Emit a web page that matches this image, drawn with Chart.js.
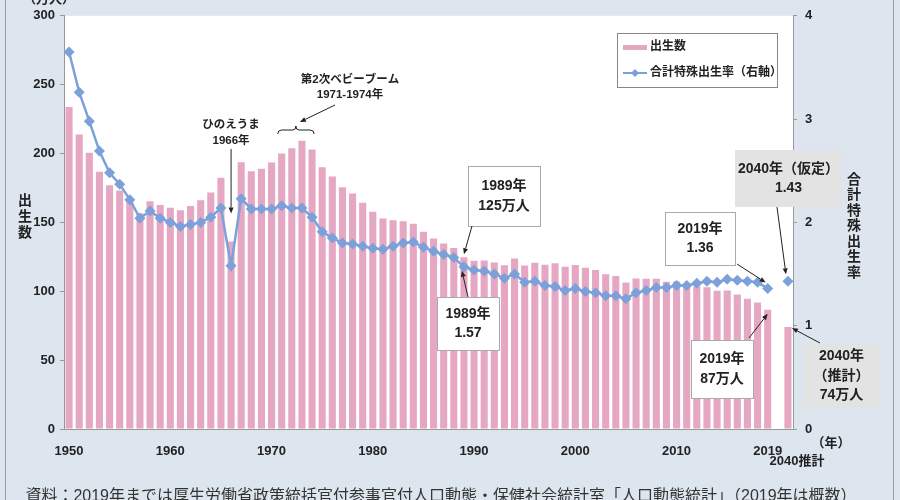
<!DOCTYPE html>
<html>
<head>
<meta charset="utf-8">
<script src="https://cdn.jsdelivr.net/npm/chart.js@4.4.1/dist/chart.umd.min.js"></script>
<style>
  html, body { margin: 0; padding: 0; background: #dde5ee; }
  canvas { display: block; }
</style>
</head>
<body>
<canvas id="chart" width="900" height="500"></canvas>
<script>
// --- DATOS ---
const years = [];
for (let y = 1950; y <= 2019; y++) years.push(String(y));
const categories = years.concat(['', '2040']);
const tickYears = ['1950', '1960', '1970', '1980', '1990', '2000', '2010', '2019'];

// 出生数（万人） 1950-2019, 空白, 2040推計
const births = [
  233.8, 213.8, 200.5, 186.8, 177.0, 173.1, 166.5, 156.7, 165.3, 162.6,
  160.6, 158.9, 161.9, 166.0, 171.7, 182.4, 136.1, 193.6, 187.2, 188.9,
  193.4, 200.1, 203.9, 209.2, 203.0, 190.1, 183.3, 175.5, 170.9, 164.3,
  157.7, 152.9, 151.5, 150.9, 149.0, 143.2, 138.3, 134.7, 131.4, 124.7,
  122.2, 122.3, 120.9, 118.8, 123.8, 118.7, 120.7, 119.2, 120.3, 117.8,
  119.1, 117.1, 115.4, 112.4, 111.1, 106.3, 109.3, 109.0, 109.1, 107.0,
  107.1, 105.1, 103.7, 103.0, 100.4, 100.6, 97.7, 94.6, 91.8, 86.5,
  null, 74
];

// 合計特殊出生率
const tfr = [
  3.65, 3.26, 2.98, 2.69, 2.48, 2.37, 2.22, 2.04, 2.11, 2.04,
  2.00, 1.96, 1.98, 2.00, 2.05, 2.14, 1.58, 2.23, 2.13, 2.13,
  2.13, 2.16, 2.14, 2.14, 2.05, 1.91, 1.85, 1.80, 1.79, 1.77,
  1.75, 1.74, 1.77, 1.80, 1.81, 1.76, 1.72, 1.69, 1.66, 1.57,
  1.54, 1.53, 1.50, 1.46, 1.50, 1.42, 1.43, 1.39, 1.38, 1.34,
  1.36, 1.33, 1.32, 1.29, 1.29, 1.26, 1.32, 1.34, 1.37, 1.37,
  1.39, 1.39, 1.41, 1.43, 1.42, 1.45, 1.44, 1.43, 1.42, 1.36,
  null, 1.43
];

const BAR_COLOR = '#e6a7c2';
const LINE_COLOR = '#7ba0da';
const TEXT_COLOR = '#222';
const FONT = '"Liberation Sans", "Noto Sans CJK JP", sans-serif';
const caption = '資料：2019年までは厚生労働省政策統括官付参事官付人口動態・保健社会統計室「人口動態統計」（2019年は概数）';

function text(ctx, str, x, y, size, weight = 'bold', align = 'center', color = TEXT_COLOR) {
  ctx.font = `${weight} ${size}px ${FONT}`;
  ctx.fillStyle = color;
  ctx.textAlign = align;
  ctx.textBaseline = 'middle';
  ctx.fillText(str, x, y);
}

function arrow(ctx, x1, y1, x2, y2) {
  const ang = Math.atan2(y2 - y1, x2 - x1);
  const len = 6, w = 2.5;
  ctx.strokeStyle = '#222';
  ctx.fillStyle = '#222';
  ctx.lineWidth = 1;
  ctx.beginPath();
  ctx.moveTo(x1, y1);
  ctx.lineTo(x2 - Math.cos(ang) * len, y2 - Math.sin(ang) * len);
  ctx.stroke();
  ctx.beginPath();
  ctx.moveTo(x2, y2);
  ctx.lineTo(x2 - Math.cos(ang) * len - Math.sin(ang) * w, y2 - Math.sin(ang) * len + Math.cos(ang) * w);
  ctx.lineTo(x2 - Math.cos(ang) * len + Math.sin(ang) * w, y2 - Math.sin(ang) * len - Math.cos(ang) * w);
  ctx.closePath();
  ctx.fill();
}

function box(ctx, x, y, w, h, lines, gray) {
  ctx.fillStyle = gray ? '#e3e3e3' : '#fff';
  ctx.fillRect(x, y, w, h);
  if (!gray) {
    ctx.strokeStyle = '#aaa';
    ctx.lineWidth = 1;
    ctx.strokeRect(x + 0.5, y + 0.5, w, h);
  }
  const step = 19.5;
  const start = y + h / 2 - (lines.length - 1) * step / 2;
  lines.forEach((l, k) => text(ctx, l, x + w / 2, start + k * step, 14));
}

const decor = {
  id: 'decor',
  beforeDraw(chart) {
    const { ctx, chartArea: a } = chart;
    ctx.save();
    ctx.fillStyle = '#dde5ee';
    ctx.fillRect(0, 0, chart.width, chart.height);
    ctx.fillStyle = '#fff';
    ctx.fillRect(a.left, a.top, a.right - a.left, a.bottom - a.top);
    ctx.strokeStyle = '#999';
    ctx.lineWidth = 1;
    ctx.beginPath();
    ctx.moveTo(5.5, 0); ctx.lineTo(5.5, 500);
    ctx.moveTo(893.5, 0); ctx.lineTo(893.5, 500);
    ctx.stroke();
    ctx.restore();
  },
  afterDraw(chart) {
    const { ctx } = chart;
    const xs = chart.scales.x, ys = chart.scales.y, yr = chart.scales.y1;
    const px = i => xs.getPixelForValue(i);
    const i1966 = categories.indexOf('1966');
    const i1971 = categories.indexOf('1971');
    const i1974 = categories.indexOf('1974');
    const i1989 = categories.indexOf('1989');
    const i2019 = categories.indexOf('2019');
    const i2040 = categories.indexOf('2040');
    ctx.save();

    // 軸タイトル
    ['出', '生', '数'].forEach((c, k) => text(ctx, c, 25, 201 + k * 16, 14));
    '合計特殊出生率'.split('').forEach((c, k) => text(ctx, c, 854, 180 + k * 15.5, 14));
    text(ctx, '（万人）', 49, -1, 13);
    text(ctx, '（年）', 831, 443, 13);
    text(ctx, '2040推計', px(i2040) + 9, 461, 13);
    text(ctx, caption, 441, 497, 16, 'normal', 'center', '#333');

    // 凡例
    ctx.fillStyle = '#fff';
    ctx.fillRect(617, 33, 160, 54);
    ctx.strokeStyle = '#888';
    ctx.lineWidth = 1;
    ctx.strokeRect(617.5, 33.5, 160, 54);
    ctx.fillStyle = BAR_COLOR;
    ctx.fillRect(623, 45, 24, 5);
    text(ctx, '出生数', 650, 47, 12, 'bold', 'left');
    ctx.strokeStyle = LINE_COLOR;
    ctx.lineWidth = 2;
    ctx.beginPath(); ctx.moveTo(623, 73); ctx.lineTo(647, 73); ctx.stroke();
    ctx.fillStyle = LINE_COLOR;
    ctx.beginPath();
    ctx.moveTo(635, 69); ctx.lineTo(639, 73); ctx.lineTo(635, 77); ctx.lineTo(631, 73);
    ctx.closePath(); ctx.fill();
    text(ctx, '合計特殊出生率（右軸）', 650, 73, 12, 'bold', 'left');

    // ひのえうま
    const x66 = px(i1966);
    text(ctx, 'ひのえうま', x66, 125, 11.5);
    text(ctx, '1966年', x66, 141, 11.5);
    arrow(ctx, x66, 149, x66, ys.getPixelForValue(births[i1966]) - 28);

    // 第2次ベビーブーム
    const bl = px(i1971) - 4, br = px(i1974) + 2, bm = (bl + br) / 2, by = 130;
    text(ctx, '第2次ベビーブーム', 350, 80, 11.5);
    text(ctx, '1971-1974年', 350, 95, 11.5);
    ctx.strokeStyle = '#222';
    ctx.lineWidth = 1;
    ctx.beginPath();
    ctx.moveTo(bl, by + 4);
    ctx.quadraticCurveTo(bl, by, bl + 4, by);
    ctx.lineTo(bm - 3, by);
    ctx.quadraticCurveTo(bm, by, bm, by - 4);
    ctx.quadraticCurveTo(bm, by, bm + 3, by);
    ctx.lineTo(br - 4, by);
    ctx.quadraticCurveTo(br, by, br, by + 4);
    ctx.stroke();
    arrow(ctx, 335, 105, bm + 4, 122);

    // 1989年
    const x89 = px(i1989);
    box(ctx, 468, 166, 72, 60, ['1989年', '125万人']);
    arrow(ctx, 472, 226, x89, ys.getPixelForValue(births[i1989]) - 3);
    box(ctx, 437, 297, 62, 53, ['1989年', '1.57']);
    arrow(ctx, 468, 297, x89 - 2, yr.getPixelForValue(tfr[i1989]) + 4);

    // 2019年・2040年
    const x19 = px(i2019), x40 = px(i2040);
    box(ctx, 665, 212, 70, 53, ['2019年', '1.36']);
    arrow(ctx, 737, 264, x19 - 2, yr.getPixelForValue(tfr[i2019]) - 6);
    box(ctx, 735, 150, 107, 57, ['2040年（仮定）', '1.43'], true);
    arrow(ctx, 777, 207, x40 - 2, yr.getPixelForValue(tfr[i2040]) - 7);
    box(ctx, 691, 340, 62, 58, ['2019年', '87万人']);
    arrow(ctx, 749, 338, x19, ys.getPixelForValue(births[i2019]) + 4);
    box(ctx, 803, 344, 77, 64, ['2040年', '（推計）', '74万人'], true);
    arrow(ctx, 820, 343, x40 + 4, ys.getPixelForValue(births[i2040]) + 1);

    ctx.restore();
  }
};

const tickFont = { family: FONT, size: 13, weight: 'bold' };

new Chart(document.getElementById('chart'), {
  type: 'bar',
  data: {
    labels: categories,
    datasets: [
      {
        type: 'line',
        label: '合計特殊出生率（右軸）',
        data: tfr,
        yAxisID: 'y1',
        borderColor: LINE_COLOR,
        backgroundColor: LINE_COLOR,
        borderWidth: 2.5,
        pointStyle: 'rectRot',
        pointRadius: 5.5,
        pointBorderWidth: 0,
        spanGaps: false,
        order: 0
      },
      {
        type: 'bar',
        label: '出生数',
        data: births,
        yAxisID: 'y',
        backgroundColor: BAR_COLOR,
        barPercentage: 0.7,
        categoryPercentage: 1.0,
        order: 1
      }
    ]
  },
  options: {
    responsive: false,
    devicePixelRatio: 1,
    animation: false,
    layout: { padding: { top: 15, left: 0, right: 0, bottom: 0 } },
    plugins: { legend: { display: false }, tooltip: { enabled: false } },
    scales: {
      x: {
        offset: true,
        grid: { display: false },
        border: { display: true, color: '#999' },
        ticks: {
          autoSkip: false, maxRotation: 0, minRotation: 0, padding: 7,
          color: TEXT_COLOR, font: tickFont,
          callback: (v, i) => tickYears.includes(categories[i]) ? categories[i] : ''
        },
        afterFit: s => { s.height = 71; }
      },
      y: {
        position: 'left', min: 0, max: 300,
        ticks: { stepSize: 50, color: TEXT_COLOR, font: tickFont, padding: 5 },
        grid: { drawOnChartArea: false, tickLength: 4, color: '#999' },
        border: { color: '#999' },
        afterFit: s => { s.width = 64; }
      },
      y1: {
        position: 'right', min: 0, max: 4,
        ticks: { stepSize: 1, color: TEXT_COLOR, font: tickFont, padding: 8 },
        grid: { drawOnChartArea: false, tickLength: 4, color: '#999' },
        border: { color: '#999' },
        afterFit: s => { s.width = 107; }
      }
    }
  },
  plugins: [decor]
});
</script>
</body>
</html>
